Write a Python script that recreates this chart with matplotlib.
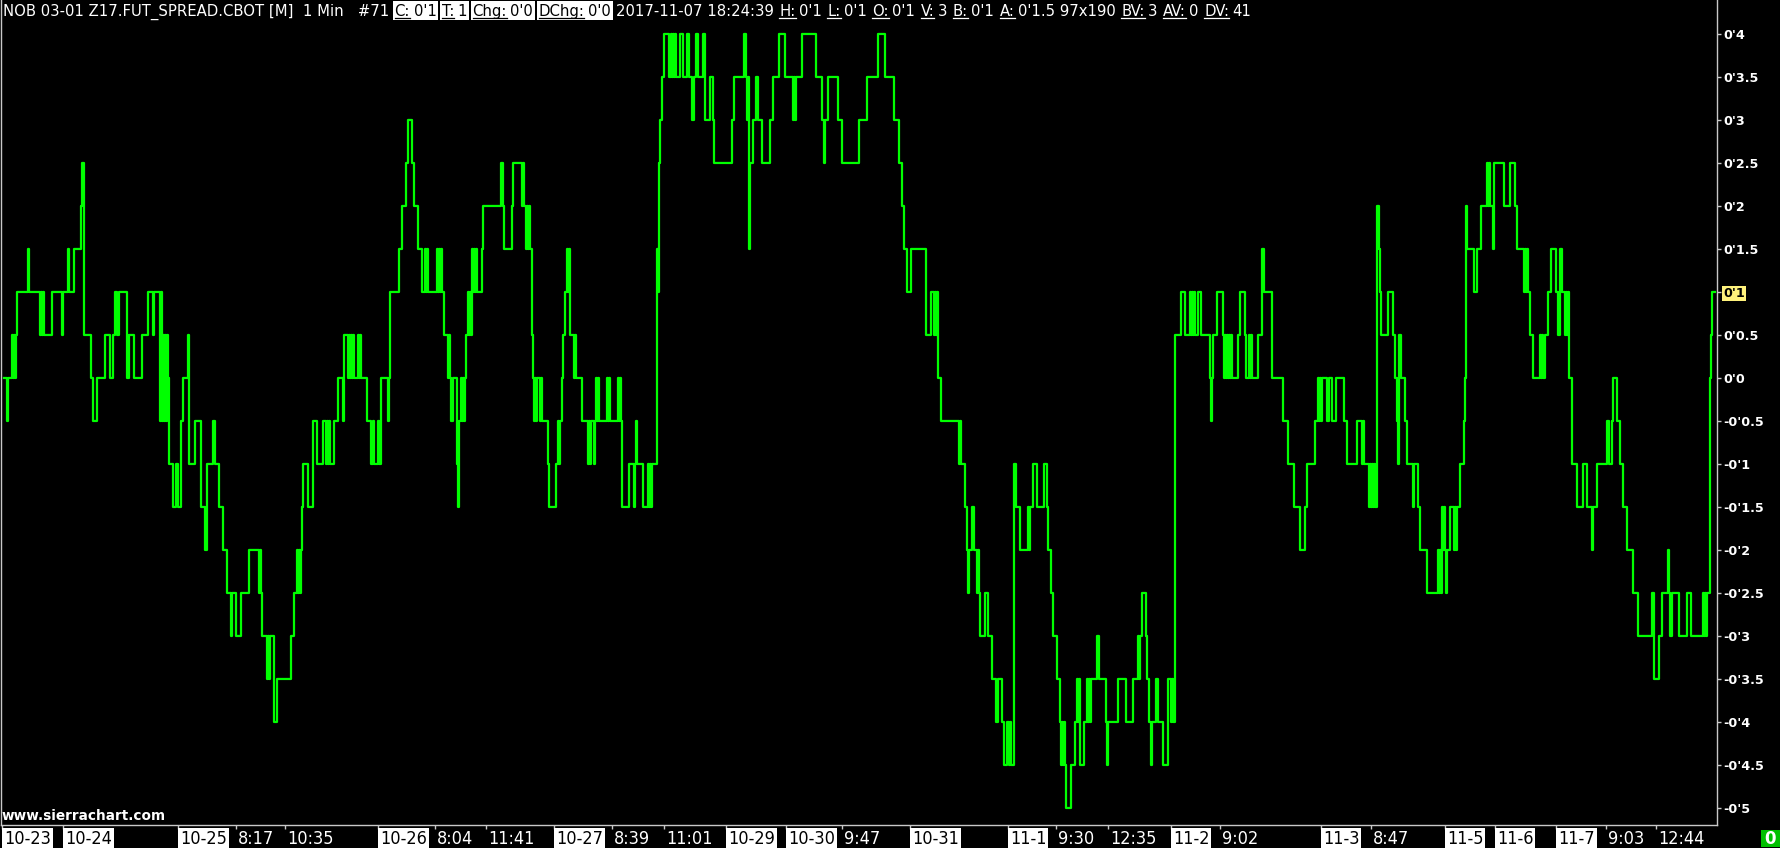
import numpy as np
import matplotlib
matplotlib.use('Agg')
import matplotlib.pyplot as plt
from matplotlib import font_manager as fm
from matplotlib.font_manager import FontProperties
from matplotlib.patches import Rectangle
from matplotlib.lines import Line2D

# ---------------- data (1-minute bars: bar index where each close level starts) ----------------
seg_bar = [4, 6, 9, 12, 17, 27, 29, 39, 44, 52, 61, 64, 68, 69, 74, 81, 82, 84, 91, 93, 97, 105, 110, 113,
           115, 117, 119, 127, 129, 134, 142, 148, 153, 154, 159, 163, 168, 169, 173, 176, 178, 181, 183, 188,
           189, 195, 201, 205, 207, 213, 215, 219, 223, 227, 230, 233, 236, 241, 249, 258, 262, 266, 271, 274,
           277,
           291, 294, 297, 302, 303, 308, 313, 317, 323, 325, 330, 334, 338, 342, 344, 347, 355, 358, 362, 367,
           371, 373, 374, 378, 379, 381, 387, 390, 399, 402, 406, 408, 412, 414, 418, 422, 425, 428, 437, 442,
           444, 447, 450, 451, 453, 457, 458, 459, 461, 465, 466, 468, 472, 478, 482, 483, 501, 503, 504, 512,
           513, 521, 525, 530, 532, 533, 538, 539, 543, 548, 549, 556, 558, 560, 562, 563, 565, 567, 570,
           573, 577, 582, 587, 591, 593, 596, 599, 607, 611, 618, 621, 622, 629, 633, 636, 637, 643, 648, 653,
           657, 659, 660, 662, 664, 669, 671, 677, 680, 683, 687, 689, 692, 694, 696, 698, 703, 705, 710, 713,
           714, 732, 734, 744, 746, 747, 749, 750, 753, 756, 758, 762, 770, 773, 779, 785, 792, 797, 802, 816,
           822, 823, 826, 828, 838, 842, 859,
           867, 878, 885, 894, 899, 902, 904, 907, 911, 926, 931, 933, 938, 941, 958, 961, 965, 967, 970, 972,
           974, 976, 980, 985, 988, 992, 996, 998, 1002, 1004, 1007, 1008, 1011, 1014, 1015, 1017, 1020, 1028,
           1031, 1033, 1037, 1044, 1047, 1048, 1051, 1053, 1057, 1060, 1066, 1071, 1075, 1077, 1080, 1084, 1087,
           1092, 1097, 1099, 1106, 1109, 1118, 1126, 1133, 1138, 1141, 1142,
           1146, 1147, 1149, 1150, 1153, 1156, 1158, 1163, 1168, 1170, 1173, 1175, 1181, 1185, 1190, 1196, 1198,
           1201, 1210, 1213, 1217, 1223, 1233, 1238, 1240, 1245, 1246, 1249, 1253, 1258, 1262, 1264, 1272, 1283,
           1288, 1294, 1300, 1305, 1307, 1315, 1318, 1323, 1327, 1329, 1332, 1336, 1344, 1347, 1357, 1361, 1365,
           1368, 1375, 1377, 1379, 1381, 1388, 1393, 1395, 1397, 1399, 1401, 1405, 1407, 1412, 1414, 1418, 1420,
           1427, 1438, 1442, 1445, 1448, 1450, 1453, 1458, 1460, 1464, 1465, 1466, 1468, 1474, 1477, 1481, 1487,
           1491, 1493, 1494, 1504, 1510, 1515, 1517, 1523, 1528, 1530, 1533, 1540, 1543, 1545, 1548, 1551, 1556,
           1558, 1560, 1562, 1564, 1569, 1572, 1577, 1583, 1587, 1591, 1594, 1597, 1607, 1609, 1612, 1613, 1617,
           1620, 1623, 1627, 1633, 1638, 1652, 1654, 1659, 1662, 1668, 1670, 1672, 1679, 1687, 1691, 1703, 1708,
           1710, 1711, 1712]
seg_close = [0, 0, 0, 0.5, 1.0, 1.0, 1.0, 1.0, 0.5, 1.0, 1.0, 1.0, 1.5, 1.0, 1.5, 2.0, 2.5, 0.5, 0, -0.5, 0, 0.5, 0, 0.5,
             1.0, 0.5, 1.0, 0, 0.5, 0, 0.5, 1.0, 0.5, 1.0, 1.0, 0.5, 0, -1.0, -1.5, -1.0, -1.5, -0.5, 0, 0.5,
             -1.0, -0.5, -1.5, -2.0, -1.0, -0.5, -1.0, -1.5, -2.0, -2.5, -2.5, -2.5, -3.0, -2.5, -2.0, -2.0, -3.0, -3.0, -3.0, -4.0,
             -3.5,
             -3.0, -2.5, -2.0, -1.5, -1.0, -1.5, -0.5, -1.0, -0.5, -0.5, -1.0, -0.5, 0, 0, 0.5, 0.5, 0, 0.5, 0, -0.5,
             -1.0, -0.5, -1.0, -0.5, -1.0, 0, 0, 1.0, 1.5, 2.0, 2.5, 3.0, 2.5, 2.0, 1.5, 1.0, 1.5, 1.0, 1.5, 1.0,
             0.5, 0.5, 0, -0.5, 0, -1.0, -1.5, -0.5, 0, 0, 0.5, 1.0, 1.5, 1.0, 1.5, 2.0, 2.5, 2.0, 1.5, 2.0,
             2.5, 2.5, 2.0, 1.5, 0.5, 0, 0, 0, -0.5, -1.0, -1.5, -1.0, -0.5, -0.5, 0, 0.5, 1.0, 1.5, 0.5,
             0.5, 0, -0.5, -0.5, -0.5, -0.5, 0, -0.5, 0, -0.5, 0, -0.5, -1.5, -1.0, -1.0, -0.5, -1.0, -1.5, -1.0, -1.0,
             1.5, 2.5, 3.0, 3.5, 4.0, 3.5, 4.0, 3.5, 4.0, 3.5, 4.0, 3.5, 3.0, 3.5, 4.0, 3.5, 4.0, 3.0, 3.5, 3.0,
             2.5, 3.0, 3.5, 4.0, 3.5, 3.0, 1.5, 2.5, 3.0, 3.5, 3.0, 2.5, 3.0, 3.5, 4.0, 3.5, 3.5, 3.5, 4.0, 3.5,
             3.0, 3.0, 3.0, 3.5, 3.0, 2.5, 3.0,
             3.5, 4.0, 3.5, 3.0, 2.5, 2.0, 1.5, 1.0, 1.5, 0.5, 1.0, 1.0, 0, -0.5, -0.5, -1.0, -1.5, -2.0, -2.0, -1.5,
             -2.0, -2.0, -3.0, -2.5, -3.0, -3.5, -4.0, -3.5, -4.0, -4.5, -4.0, -4.0, -4.5, -1.0, -1.0, -1.5, -2.0, -1.5,
             -1.5, -1.0, -1.5, -1.0, -1.5, -2.0, -2.5, -3.0, -3.5, -4.0, -5.0, -4.5, -4.0, -3.5, -4.5, -4.0, -3.5,
             -3.5, -3.0, -3.5, -4.0, -4.0, -3.5, -4.0, -3.5, -3.0, -3.0, -2.5,
             -3.0, -3.5, -4.0, -4.0, -4.0, -3.5, -4.0, -4.5, -3.5, -3.5, -4.0, 0.5, 1.0, 0.5, 1.0, 0.5, 1.0,
             0.5, 0, 0.5, 1.0, 0.5, 0, 0.5, 1.0, 0.5, 0, 0.5, 0, 0.5, 1.5, 1.0, 0, -0.5,
             -1.0, -1.5, -2.0, -1.5, -1.0, -0.5, 0, 0, -0.5, 0, -0.5, 0, -0.5, -1.0, -0.5, -0.5, -1.0,
             -1.0, -1.5, 2.0, 1.5, 0.5, 1.0, 0.5, 0, -0.5, 0.5, 0, -0.5, -1.0, -1.0, -1.0, -1.5, -2.0,
             -2.5, -2.0, -1.5, -2.0, -2.0, -1.5, -1.5, -1.5, -1.0, -0.5, 0, 2.0, 1.5, 1.0, 1.5, 2.0, 2.5,
             2.0, 1.5, 2.5, 2.0, 2.5, 2.0, 1.5, 1.5, 1.0, 0.5, 0, 0.5, 0, 0.5, 1.0, 1.5, 1.0,
             0.5, 1.5, 1.0, 1.0, 0, -1.0, -1.5, -1.0, -1.5, -1.5, -1.5, -1.0, -0.5, -1.0, -0.5, 0, -0.5,
             -1.0, -1.5, -2.0, -2.5, -3.0, -2.5, -3.5, -3.0, -2.5, -2.0, -3.0, -2.5, -3.0, -2.5, -3.0, -2.5, -2.5,
             0, 0.5, 1.0]
# second level for stretches where the close flips back and forth every bar (None = steady)
N = None
seg_alt = [N, -0.5, N, 0, N, 1.5, N, 0.5, N, N, 0.5, N, N, N, N, N, N, N, N, N, N, N, N, N,
           N, N, N, N, N, N, N, N, N, N, -0.5, -0.5, N, N, N, N, N, N, N, N,
           N, N, N, N, N, N, N, N, N, N, -3.0, N, N, N, N, -2.5, N, -3.5, N, N,
           N,
           N, N, -2.5, N, N, N, N, N, N, -1.0, N, N, N, -0.5, N, 0, N, 0, N, N,
           N, N, N, N, N, N, -0.5, N, N, N, N, N, N, N, N, N, 1.0, N, 1.0, N,
           N, 0, N, N, N, N, N, N, -0.5, N, N, 0.5, 1.0, N, N, N, N, N, N, N,
           N, 2.0, 1.5, N, N, -0.5, N, -0.5, N, N, N, N, -1.0, N, N, N, N, 1.0, N,
           0, N, N, -1.0, N, -1.0, -0.5, N, -0.5, N, -0.5, N, N, N, -1.5, N, N, N, -1.5, N,
           1.0, N, N, N, N, N, 3.5, N, N, N, N, N, N, N, N, N, N, N, N, N,
           N, N, N, N, N, 3.5, N, N, N, N, N, N, N, N, N, N, 3.0, N, N, N,
           N, 2.5, N, N, N, N, N,
           N, N, N, N, N, N, N, N, N, N, N, 0.5, N, N, -1.0, N, N, -2.5, N, N,
           N, -2.5, N, N, N, N, N, N, N, N, N, -4.5, N, N, -1.5, N, N, -2.0,
           N, N, N, N, N, N, N, N, N, -4.5, N, N, N, -4.0, N, N, -4.0,
           N, N, N, -4.5, N, N, N, N, -3.5, N, N,
           N, N, N, -4.5, N, N, N, N, N, -4.0, N, N, N, N, 0.5, N, N,
           N, -0.5, N, N, 0, N, N, N, N, N, 0, N, N, N, N, N, N,
           N, N, N, N, N, N, -0.5, N, N, N, N, N, N, N, N, -1.0, N,
           -1.5, N, N, 1.0, N, N, N, N, -1.0, N, N, N, N, -1.5, N, N, N,
           N, -2.5, -2.0, -2.5, N, N, -2.0, N, N, N, N, 1.5, N, N, N, N, 2.0,
           N, N, N, N, N, N, N, 1.0, N, N, N, 0, N, N, N, N, N,
           N, N, N, 0.5, N, N, N, N, N, -2.0, N, N, N, N, N, N, N,
           N, N, N, N, N, N, N, N, N, -2.5, N, N, N, N, N, -3.0, N,
           N, N, N]
end_bar = 1715

y_ticks = [4.0, 3.5, 3.0, 2.5, 2.0, 1.5, 1.0, 0.5, 0.0, -0.5, -1.0, -1.5, -2.0, -2.5, -3.0, -3.5, -4.0, -4.5, -5.0]
y_tick_labels = ["0'4", "0'3.5", "0'3", "0'2.5", "0'2", "0'1.5", "0'1", "0'0.5", "0'0", "-0'0.5", "-0'1",
                 "-0'1.5", "-0'2", "-0'2.5", "-0'3", "-0'3.5", "-0'4", "-0'4.5", "-0'5"]
last_label = "0'1"

x_tick_bars = [2, 63, 178, 236, 285, 378, 435, 486, 554, 612, 664, 726, 786, 842, 910, 1008, 1056, 1108,
               1171, 1220, 1321, 1371, 1445, 1495, 1556, 1606, 1656]
x_tick_labels = ['10-23', '10-24', '10-25', '8:17', '10:35', '10-26', '8:04', '11:41', '10-27', '8:39', '11:01',
                 '10-29', '10-30', '9:47', '10-31', '11-1', '9:30', '12:35', '11-2', '9:02', '11-3', '8:47',
                 '11-5', '11-6', '11-7', '9:03', '12:44']

header_items = [
    ("", "NOB 03-01 Z17.FUT_SPREAD.CBOT [M]  1 Min   #71", False),
    ("C:", "0'1", True), ("T:", "1", True), ("Chg:", "0'0", True), ("DChg:", "0'0", True),
    ("", "2017-11-07 18:24:39", False),
    ("H:", "0'1", False), ("L:", "0'1", False), ("O:", "0'1", False), ("V:", "3", False),
    ("B:", "0'1", False), ("A:", "0'1.5 97x190", False), ("BV:", "3", False), ("AV:", "0", False),
    ("DV:", "41", False),
]
watermark = "www.sierrachart.com"
volume_label = "0"

# ---------------- expand segments into per-bar closes ----------------
n = min(len(seg_bar), len(seg_close), len(seg_alt))
xs, ys = [], []
bounds = seg_bar[1:n] + [end_bar]
for s, e, c, a in zip(seg_bar[:n], bounds, seg_close[:n], seg_alt[:n]):
    for k, b in enumerate(range(s, e)):
        xs.append(b)
        ys.append(a if (a is not None and k % 2 == 1) else c)
xs.append(end_bar)
ys.append(ys[-1])


# ---------------- pick a condensed font (real text) ----------------
def pick_condensed():
    best = None
    best_score = -1
    for f in fm.fontManager.ttflist:
        nm = f.name
        st = f.stretch
        try:
            stv = int(st)
        except (TypeError, ValueError):
            stv = {'ultra-condensed': 100, 'extra-condensed': 200, 'condensed': 300, 'semi-condensed': 400,
                   'normal': 500}.get(str(st), 500)
        fname = f.fname.lower()
        is_cond = ('narrow' in nm.lower() or 'condensed' in nm.lower() or 'condensed' in fname
                   or 'narrow' in fname or stv < 500)
        if not is_cond:
            continue
        if 'mono' in nm.lower() or 'serif' in nm.lower().replace('sans', ''):
            continue
        if f.style != 'normal':
            continue
        w = f.weight if isinstance(f.weight, int) else {'normal': 400, 'regular': 400, 'bold': 700}.get(
            str(f.weight), 400)
        if w != 400:
            continue
        score = 1
        if 'liberation' in nm.lower():
            score = 5
        elif 'dejavu' in nm.lower():
            score = 4
        elif 'noto sans' in nm.lower() and 'cjk' not in nm.lower():
            score = 3
        elif 'roboto' in nm.lower() or 'open sans' in nm.lower():
            score = 2
        if score > best_score:
            best_score = score
            best = f.fname
    if best is None:
        return FontProperties(family='DejaVu Sans')
    return FontProperties(fname=best)


NARROW = pick_condensed()

# ---------------- figure ----------------
W, H = 1781, 848
fig = plt.figure(figsize=(W / 100, H / 100), dpi=100, facecolor='black')
ax = fig.add_axes([1 / W, 23 / H, 1716 / W, 825 / H])
ax.set_facecolor('black')
ax.plot(xs, ys, drawstyle='steps-post', color='#00ff00', lw=1.6)
ax.set_xlim(1, 1717)
ax.set_ylim(-5.198, 4.395)

GRAY = '#c8c8c8'
for side in ['left', 'right', 'bottom']:
    ax.spines[side].set_color(GRAY)
    ax.spines[side].set_linewidth(1.0)
ax.spines['top'].set_visible(False)

ax.yaxis.tick_right()
ax.set_yticks(y_ticks, labels=y_tick_labels)
ax.tick_params(axis='y', colors=GRAY, labelcolor='white', length=3, width=1, pad=1.5,
               labelsize=9.2)
for lbl in ax.get_yticklabels():
    lbl.set_fontweight('bold')
    lbl.set_family('DejaVu Sans')
    if lbl.get_text() == last_label:
        lbl.set_color('black')
        lbl.set_bbox(dict(facecolor='#fff27c', edgecolor='none', pad=1.0))

ax.set_xticks(x_tick_bars, labels=[''] * len(x_tick_bars))
ax.tick_params(axis='x', colors=GRAY, length=3, width=1, direction='out')

renderer = fig.canvas.get_renderer()


def fx(px):
    return px / W


def fy(py):
    return 1 - py / H


def fp(size):
    p = NARROW.copy()
    p.set_size(size)
    return p


# x-axis labels
LBL_SIZE = 13
for b, t in zip(x_tick_bars, x_tick_labels):
    px = ax.transData.transform((b, 0))[0]
    is_date = '-' in t
    txt = fig.text(fx(px + 2), fy(844), t, color='black' if is_date else 'white', fontproperties=fp(LBL_SIZE),
                   va='baseline', ha='left', zorder=5)
    if is_date:
        w = txt.get_window_extent(renderer).width
        fig.add_artist(Rectangle((fx(px), fy(848)), (w + 4) / W, 20 / H, transform=fig.transFigure,
                                 facecolor='white', edgecolor='none', zorder=4))


# header
def build_header(size):
    artists = []
    x = 3.0
    for lab, val, boxed in header_items:
        col = 'black' if boxed else 'white'
        x0 = x
        if lab:
            t = fig.text(fx(x), fy(16), lab, color=col, fontproperties=fp(size), va='baseline',
                         ha='left', zorder=6)
            wl = t.get_window_extent(renderer).width
            artists.append(t)
            ln = fig.add_artist(Line2D([fx(x), fx(x + wl)], [fy(18), fy(18)], transform=fig.transFigure,
                                       color=col, lw=0.9, zorder=6))
            artists.append(ln)
            x += wl + size * 0.3
        t = fig.text(fx(x), fy(16), val, color=col, fontproperties=fp(size), va='baseline', ha='left',
                     zorder=6)
        wv = t.get_window_extent(renderer).width
        artists.append(t)
        x += wv
        if boxed:
            r = fig.add_artist(Rectangle((fx(x0 - 2), fy(20)), (x - x0 + 4) / W, 19 / H,
                                         transform=fig.transFigure, facecolor='white', edgecolor='none',
                                         zorder=5))
            artists.append(r)
        x += size * 0.45
    return artists, x


arts, xend = build_header(13)
for a in arts:
    a.remove()
arts, xend = build_header(13 * (1250 - 3) / (xend - 3))

# watermark
fig.text(fx(2), fy(820), watermark, color='white', fontsize=9.8, fontweight='bold', family='DejaVu Sans',
         va='baseline', ha='left')

# volume box bottom right
fig.add_artist(Rectangle((fx(1761), fy(847)), 19 / W, 17 / H, transform=fig.transFigure,
                         facecolor='#00c000', edgecolor='none'))
fig.text(fx(1770.5), fy(844), volume_label, color='white', fontsize=12, fontweight='bold',
         family='DejaVu Sans', va='baseline', ha='center')

fig.savefig('out.png', dpi=100, facecolor='black')
